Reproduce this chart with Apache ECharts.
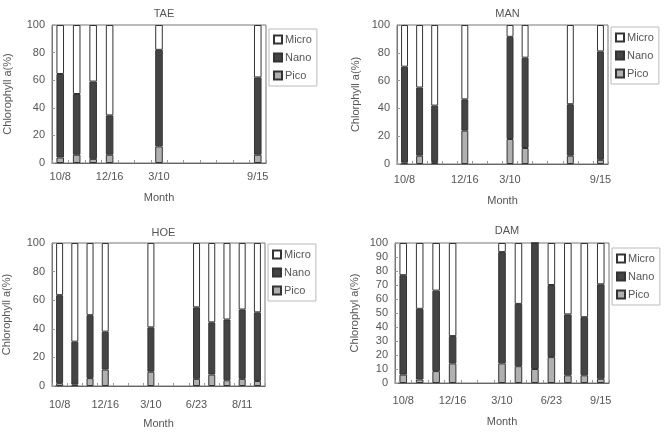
<!DOCTYPE html>
<html><head><meta charset="utf-8">
<script src="https://cdn.jsdelivr.net/npm/echarts@6/dist/echarts.min.js"></script>
<style>html,body{margin:0;padding:0;background:#fff}#c{width:669px;height:432px}</style>
</head><body><div id="c"></div>
<script>
// ---- Data ----
var taeMonths = ['10/8','','','12/16','','','3/10','','','','','','9/15'];
var taePico  = [4, 6, 3, 6, null, null, 12, null, null, null, null, null, 6];
var taeNano  = [60.5, 44, 56, 28.5, null, null, 70, null, null, null, null, null, 56];
var taeMicro = [35.5, 50, 41, 65.5, null, null, 18, null, null, null, null, null, 38];

var manMonths = ['10/8','','','','12/16','','','3/10','','','','','','9/15'];
var manPico  = [1, 6, 1.5, null, 24, null, null, 18, 11.5, null, null, 6, null, 3];
var manNano  = [69, 49, 40.5, null, 22.5, null, null, 73.5, 65, null, null, 37, null, 78];
var manMicro = [30, 45, 58, null, 53.5, null, null, 8.5, 23.5, null, null, 57, null, 19];

var hoeMonths = ['10/8','','','12/16','','','3/10','','','6/23','','','8/11',''];
var hoePico  = [2, 1, 5.5, 11.5, null, null, 10, null, null, 5, 8, 4, 5, 3.5];
var hoeNano  = [61.5, 30, 44, 26.5, null, null, 31, null, null, 50, 36.5, 42.5, 48.5, 48];
var hoeMicro = [36.5, 69, 50.5, 62, null, null, 59, null, null, 45, 55.5, 53.5, 46.5, 48.5];

var damMonths = ['10/8','','','12/16','','','3/10','','','6/23','','','9/15'];
var damPico  = [6, 2.5, 8.5, 14, null, null, 14, 12, 10, 18.5, 5.5, 5.5, 3];
var damNano  = [71, 50.5, 57.5, 19.5, null, null, 79.5, 44.5, 90, 51.5, 43.5, 41.5, 67.5];
var damMicro = [23, 47, 34, 66.5, null, null, 6.5, 43.5, 0, 30, 51, 53, 29.5];

var titles = ['TAE','MAN','HOE','DAM'];
var yNames = ['Chlorophyll a(%)','Chlorphyll a(%)','Chlorophyll a(%)','Chlorophyl a(%)'];

// ---- Layout ----
var grids = [
  {left:52, top:25, width:214, height:138},
  {left:397, top:25, width:211, height:139},
  {left:52, top:243, width:213, height:143},
  {left:395, top:243, width:214, height:140}
];
var titleTops = [3, 3, 222, 220];
var legendTops = [29, 27, 244, 248];
var monthsArr = [taeMonths, manMonths, hoeMonths, damMonths];
var data = [
  [taePico, taeNano, taeMicro],
  [manPico, manNano, manMicro],
  [hoePico, hoeNano, hoeMicro],
  [damPico, damNano, damMicro]
];
var txt = '#555';
var font = 'Liberation Sans, Arial, sans-serif';
var colors = {Pico:'#b0b0b0', Nano:'#444444', Micro:'#ffffff'};
var labelMargins = [8, 10, 13, 12];
var nameGaps = [29, 31, 32, 33];
var yNameGaps = [39, 36, 40, 35];
var yIntervals = [20, 20, 20, 10];

var option = {
  backgroundColor:'#fff',
  animation:false,
  textStyle:{fontFamily:font, color:txt},
  title: grids.map(function(g,i){
    return {text:titles[i], left:g.left+g.width/2, top:titleTops[i], textAlign:'center',
      textStyle:{fontSize:11, fontWeight:'normal', color:txt, fontFamily:font}};
  }),
  legend: grids.map(function(g,i){
    return {data:['Micro','Nano','Pico'], orient:'vertical', left:g.left+g.width+3, top:legendTops[i],
      itemWidth:8, itemHeight:8, itemGap:7, icon:'rect', padding:[5,5,5,4],
      borderColor:'#bbb', borderWidth:1, borderRadius:0,
      textStyle:{fontSize:11, color:txt, fontFamily:font, padding:[0,0,0,-2]}};
  }),
  grid: grids.map(function(g){
    return {left:g.left, top:g.top, width:g.width, height:g.height, show:true,
      borderColor:'#777', borderWidth:1, backgroundColor:'#fff', containLabel:false};
  }),
  xAxis: grids.map(function(g,i){
    return {type:'category', gridIndex:i, data:monthsArr[i], boundaryGap:true,
      name:'Month', nameLocation:'middle', nameGap:nameGaps[i],
      nameTextStyle:{fontSize:11, color:txt},
      axisLine:{lineStyle:{color:'#666', width:1.2}},
      axisTick:{show:true, inside:true, length:3, lineStyle:{color:'#999'}},
      axisLabel:{interval:0, fontSize:11, color:txt, margin:labelMargins[i]},
      splitLine:{show:false}};
  }),
  yAxis: grids.map(function(g,i){
    return {type:'value', gridIndex:i, min:0, max:100, interval:yIntervals[i],
      name:yNames[i], nameLocation:'middle', nameGap:yNameGaps[i],
      nameTextStyle:{fontSize:11, color:txt},
      axisLine:{show:true, lineStyle:{color:'#777'}},
      axisTick:{show:true, inside:true, length:3, lineStyle:{color:'#999'}},
      axisLabel:{fontSize:11, color:txt, margin:7},
      splitLine:{show:false}};
  }),
  series: []
};
var names = ['Pico','Nano','Micro'];
for (var i=0;i<4;i++){
  for (var k=0;k<3;k++){
    option.series.push({
      name:names[k], type:'bar', xAxisIndex:i, yAxisIndex:i, stack:'s'+i,
      barWidth:'46%', data:data[i][k],
      itemStyle:{color:colors[names[k]], borderColor:'#333', borderWidth:1}
    });
  }
}
var chart = echarts.init(document.getElementById('c'), null, {renderer:'canvas'});
chart.setOption(option);
</script>
</body></html>
